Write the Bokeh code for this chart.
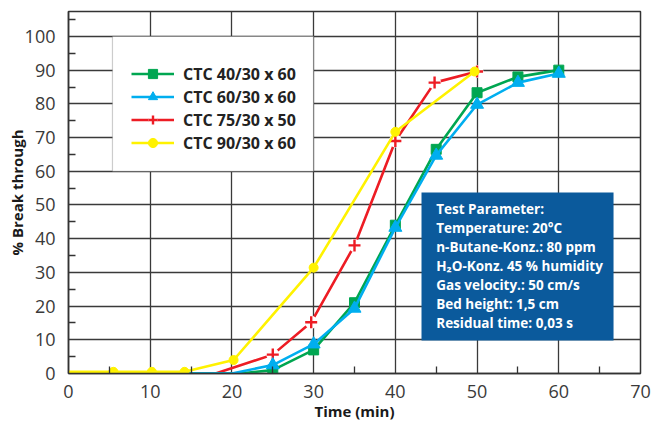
from bokeh.plotting import figure
from bokeh.models import (Range1d, FixedTicker, Legend, LegendItem, BoxAnnotation, Label)
from bokeh.embed import file_html
from bokeh.resources import INLINE

# ---- data ----
series_names = ["CTC 40/30 x 60", "CTC 60/30 x 60", "CTC 75/30 x 50", "CTC 90/30 x 60"]

green_x = [0, 21, 25, 30, 35, 40, 45, 50, 55, 60]
green_y = [0, 0, 1.0, 7.0, 21.0, 44.0, 66.5, 83.3, 88.0, 90.0]
green_mark_start = 2

blue_x = [0, 20, 25, 30, 35, 40, 45, 50, 55, 60]
blue_y = [0, 0, 2.5, 8.7, 19.3, 43.3, 64.7, 79.8, 86.3, 89.0]
blue_mark_start = 2

red_x = [0, 18, 25, 29.7, 35, 40, 44.8, 50]
red_y = [0, 0, 5.6, 15.2, 38.0, 69.0, 86.3, 89.6]
red_mark_start = 2

yellow_x = [0, 5.5, 10.2, 14.2, 20.2, 30, 40, 49.7]
yellow_y = [0.5, 0.5, 0.5, 0.5, 4.0, 31.4, 71.7, 89.6]
yellow_mark_start = 1

x_ticks = [0, 10, 20, 30, 40, 50, 60, 70]
x_minor = [5, 15, 25, 35, 45, 55, 65]
y_ticks = [0, 10, 20, 30, 40, 50, 60, 70, 80, 90, 100]
y_minor = [5, 15, 25, 35, 45, 55, 65, 75, 85, 95, 105]

param_lines = [
    "Test Parameter:",
    "Temperature: 20°C",
    "n-Butane-Konz.: 80 ppm",
    "H\u2082O-Konz. 45 % humidity",
    "Gas velocity.: 50 cm/s",
    "Bed height: 1,5 cm",
    "Residual time: 0,03 s",
]

GREEN = "#00a651"
BLUE = "#00aeef"
RED = "#ed1c24"
YELLOW = "#fff200"
GRID = "#3a3a3a"
FONT = "Open Sans"

p = figure(width=659, height=425, output_backend="svg", toolbar_location=None,
           x_range=Range1d(0, 70), y_range=Range1d(0, 107.4),
           min_border_left=68, min_border_right=19, min_border_top=11, min_border_bottom=52)
p.background_fill_color = "white"
p.border_fill_color = "white"
p.outline_line_color = "#333333"
p.outline_line_width = 1.5

for ax in (p.xaxis[0], p.yaxis[0]):
    ax.major_tick_in = 0
    ax.major_tick_out = 0
    ax.minor_tick_in = 7
    ax.minor_tick_out = 0
    ax.minor_tick_line_color = "#333333"
    ax.minor_tick_line_width = 1.3
    ax.axis_line_color = "#333333"
    ax.axis_line_width = 1.5
    ax.major_label_text_font = FONT
    ax.major_label_text_font_size = "18px"
    ax.major_label_text_color = "#3a3a3a"
    ax.axis_label_text_font = FONT
    ax.axis_label_text_font_style = "bold"
    ax.axis_label_text_font_size = "15px"
    ax.axis_label_text_color = "#1a1a1a"

p.xaxis.ticker = FixedTicker(ticks=x_ticks, minor_ticks=x_minor)
p.yaxis.ticker = FixedTicker(ticks=y_ticks, minor_ticks=y_minor)
p.xaxis.axis_label = "Time (min)"
p.yaxis.axis_label = "% Break through"
p.xaxis.major_label_standoff = 11
p.yaxis.major_label_standoff = 13
p.xaxis.axis_label_standoff = 0
p.yaxis.axis_label_standoff = -5

p.xgrid.ticker = FixedTicker(ticks=x_ticks)
p.ygrid.ticker = FixedTicker(ticks=y_ticks)
for g in (p.xgrid[0], p.ygrid[0]):
    g.grid_line_color = GRID
    g.grid_line_width = 1.3

LW = 2.6

# red
r_line = p.line(red_x, red_y, line_color=RED, line_width=LW)
r_gap = p.scatter(red_x[red_mark_start:], red_y[red_mark_start:], marker="circle", size=13,
                  fill_color="white", line_color=None)
r_mark = p.scatter(red_x[red_mark_start:], red_y[red_mark_start:], marker="cross", size=12,
                   line_color=RED, line_width=2.4)
# green
g_line = p.line(green_x, green_y, line_color=GREEN, line_width=LW)
g_mark = p.scatter(green_x[green_mark_start:], green_y[green_mark_start:], marker="square", size=10,
                   fill_color=GREEN, line_color=GREEN)
# blue
b_line = p.line(blue_x, blue_y, line_color=BLUE, line_width=LW)
b_mark = p.scatter(blue_x[blue_mark_start:], blue_y[blue_mark_start:], marker="triangle", size=13,
                   fill_color=BLUE, line_color=BLUE)
# yellow
y_line = p.line(yellow_x, yellow_y, line_color=YELLOW, line_width=LW)
y_mark = p.scatter(yellow_x[yellow_mark_start:], yellow_y[yellow_mark_start:], marker="circle", size=9,
                   fill_color=YELLOW, line_color=YELLOW)

# legend box
p.add_layout(BoxAnnotation(left=5.38, right=29.98, top=100, bottom=60,
                           fill_color="white", fill_alpha=1.0,
                           line_color="#555555", line_width=1.2))

legend = Legend(items=[
    LegendItem(label=series_names[0], renderers=[g_line, g_mark]),
    LegendItem(label=series_names[1], renderers=[b_line, b_mark]),
    LegendItem(label=series_names[2], renderers=[r_line, r_gap, r_mark]),
    LegendItem(label=series_names[3], renderers=[y_line, y_mark]),
], location=(63, 219), orientation="vertical")
legend.background_fill_alpha = 0
legend.border_line_color = None
legend.padding = 0
legend.margin = 0
legend.spacing = 0
legend.glyph_width = 43
legend.glyph_height = 23
legend.label_height = 23
legend.label_standoff = 9
legend.label_text_font = FONT
legend.label_text_font_style = "bold"
legend.label_text_font_size = "16px"
legend.label_text_color = "#222222"
p.add_layout(legend, "center")

# parameter box
p.add_layout(BoxAnnotation(left=43.2, right=66.7, top=53.7, bottom=9.8,
                           fill_color="#0b5a9c", fill_alpha=1.0, line_color=None))
top_y = 48.7
step = 5.64
for i, t in enumerate(param_lines):
    p.add_layout(Label(x=45.0, y=top_y - i * step, text=t, text_baseline="middle",
                       text_font=FONT, text_font_style="bold", text_font_size="13.5px",
                       text_color="white"))

open("out.html", "w").write(file_html(p, INLINE))
